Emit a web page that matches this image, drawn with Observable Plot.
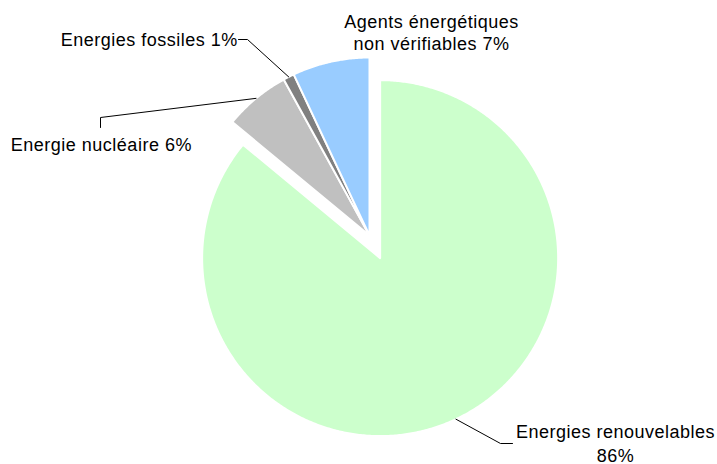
<!DOCTYPE html>
<html>
<head>
<meta charset="utf-8">
<script src="https://cdn.jsdelivr.net/npm/d3@7"></script>
<script src="https://cdn.jsdelivr.net/npm/@observablehq/plot@0.6"></script>
<style>
  html, body { margin: 0; padding: 0; background: #fff; }
  #chart svg { display: block; }
  #chart text { letter-spacing: 0.5px; }
</style>
</head>
<body>
<div id="chart"></div>
<script>
// ---- data ----
const categories = ["Energies renouvelables", "Energie nucléaire", "Energies fossiles", "Agents énergétiques non vérifiables"];
const shares = [86, 6, 1, 7];
const labels = ["Energies renouvelables\n86%", "Energie nucléaire 6%", "Energies fossiles 1%", "Agents énergétiques\nnon vérifiables 7%"];

// ---- styles ----
const colors = ["#ccffcc", "#c0c0c0", "#808080", "#99ccff"];

// ---- layout (pixels) ----
const W = 717, H = 464;
const R = 178;              // pie radius
const CX = 369, CY = 235;   // pie centre
const explodeFirst = 25;    // renewables slice pulled out
const toX = px => (px - CX) / R;
const toY = py => (CY - py) / R;

// label placement: [x, baseline of last line, anchor, lineHeight]
const labelLayout = [
  [615, 461, "middle", 1.3],
  [10.3, 150.5, "start", 1.2],
  [237.3, 45.5, "end", 1.2],
  [431, 49.7, "middle", 1.24]
];
// leader elbows & ends (pixels); null = no leader
const leaderLayout = [
  [[500, 443], [512, 443]],
  [[100, 117], [100, 127]],
  [[247, 39], [238, 39]],
  null
];

// ---- build geometry through d3.pie ----
const rows = categories.map((c, i) => ({cat: c, share: shares[i], label: labels[i]}));
const arcs = d3.pie().sort(null).value(d => d.share)(rows);

const slicePts = [];
const leaderPts = [];
arcs.forEach((a, i) => {
  const mid = (a.startAngle + a.endAngle) / 2;
  const e = i === 0 ? explodeFirst / R : 0;
  const ox = e * Math.sin(mid), oy = e * Math.cos(mid);
  slicePts.push({cat: a.data.cat, x: ox, y: oy});
  const n = Math.max(2, Math.ceil((a.endAngle - a.startAngle) / (Math.PI / 360)));
  for (let k = 0; k <= n; k++) {
    const t = a.startAngle + (a.endAngle - a.startAngle) * k / n;
    slicePts.push({cat: a.data.cat, x: ox + Math.sin(t), y: oy + Math.cos(t)});
  }
  const L = leaderLayout[i];
  if (L) {
    leaderPts.push({cat: a.data.cat, x: ox + Math.sin(mid), y: oy + Math.cos(mid)});
    L.forEach(([px, py]) => leaderPts.push({cat: a.data.cat, x: toX(px), y: toY(py)}));
  }
});

const font = "'Liberation Sans', Arial, Helvetica, sans-serif";
const textMarks = rows.map((r, i) => {
  const [px, py, anchor, lh] = labelLayout[i];
  return Plot.text([r], {
    x: () => toX(px), y: () => toY(py), text: "label",
    textAnchor: anchor, lineAnchor: "bottom", lineHeight: lh,
    fontSize: 18, fontFamily: font, fill: "#000"
  });
});

const chart = Plot.plot({
  width: W, height: H,
  margin: 0,
  x: {domain: [toX(0), toX(W)], axis: null},
  y: {domain: [toY(H), toY(0)], axis: null},
  color: {domain: categories, range: colors},
  style: {background: "#fff", fontFamily: font},
  marks: [
    Plot.line(slicePts, {x: "x", y: "y", z: "cat", fill: "cat", stroke: "#fff", strokeWidth: 2, curve: "linear-closed"}),
    Plot.line(leaderPts, {x: "x", y: "y", z: "cat", stroke: "#000", strokeWidth: 1}),
    ...textMarks
  ]
});
document.getElementById("chart").append(chart);
</script>
</body>
</html>
